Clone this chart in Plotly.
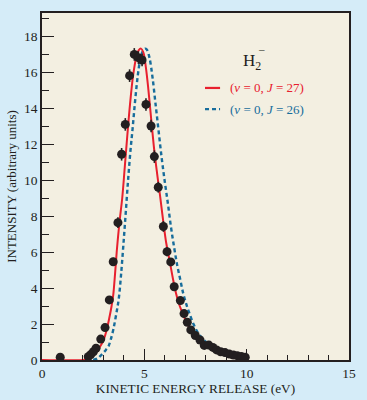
import plotly.graph_objects as go

# Measured data points (kinetic energy release in eV, intensity)
pts_E = [0.89, 2.26, 2.38, 2.51, 2.64, 2.87, 3.08, 3.29, 3.48, 3.71, 3.89, 4.07, 4.28, 4.51,
         4.71, 4.89, 5.08, 5.33, 5.49, 5.68, 5.93, 6.11, 6.29, 6.46, 6.76, 6.94, 7.10, 7.27,
         7.49, 7.72, 7.93, 8.15, 8.35, 8.53, 8.73, 8.94, 9.15, 9.35, 9.54, 9.74, 9.93]
pts_I = [0.15, 0.18, 0.30, 0.46, 0.65, 1.16, 1.80, 3.34, 5.46, 7.63, 11.43, 13.09, 15.80, 16.98,
         16.80, 16.67, 14.20, 13.00, 11.30, 9.60, 7.42, 6.02, 5.45, 4.07, 3.30, 2.58, 2.10, 1.67,
         1.36, 1.11, 0.81, 0.83, 0.70, 0.56, 0.46, 0.41, 0.33, 0.28, 0.24, 0.20, 0.15]
pts_err = [0.08, 0.08, 0.08, 0.1, 0.1, 0.12, 0.15, 0.2, 0.22, 0.3, 0.35, 0.35, 0.35, 0.35,
           0.35, 0.35, 0.35, 0.35, 0.35, 0.3, 0.3, 0.25, 0.2, 0.2, 0.15, 0.15, 0.12, 0.1,
           0.1, 0.1, 0.08, 0.08, 0.08, 0.08, 0.08, 0.08, 0.06, 0.06, 0.06, 0.06, 0.06]

# Calculated curve (v = 0, J = 27)
red_E = [0, 2.0, 2.2, 2.43, 2.65, 2.87, 3.02, 3.16, 3.3, 3.4, 3.48, 3.57, 3.65, 3.72, 3.8,
         3.92, 4.05, 4.17, 4.3, 4.45, 4.6, 4.72, 4.84, 4.95, 5.07, 5.2, 5.35, 5.49, 5.62,
         5.76, 5.88, 5.97, 6.07, 6.17, 6.27, 6.4, 6.55, 6.7, 6.85, 7.0, 7.15, 7.3, 7.5, 7.7,
         7.9, 8.05]
red_I = [0, 0, 0.05, 0.19, 0.45, 0.8, 1.15, 1.67, 2.4, 3.0, 3.6, 4.8, 6.0, 6.9, 7.8,
         9.0, 10.8, 12.5, 14.2, 15.8, 16.8, 17.2, 17.3, 17.1, 16.3, 15.0, 13.2, 11.6, 10.4,
         9.2, 8.1, 7.3, 6.5, 5.9, 5.3, 4.5, 3.7, 3.1, 2.65, 2.25, 1.9, 1.6, 1.3, 1.08,
         0.92, 0.82]

# Calculated curve (v = 0, J = 26)
blue_E = [2.5, 2.7, 2.83, 3.0, 3.12, 3.24, 3.35, 3.48, 3.62, 3.75, 3.86, 3.97, 4.08, 4.2,
          4.32, 4.43, 4.55, 4.68, 4.8, 4.92, 5.03, 5.12, 5.25, 5.4, 5.55, 5.7, 5.85, 6.0,
          6.15, 6.3, 6.45, 6.6, 6.75, 6.9, 7.05, 7.2, 7.4, 7.6, 7.8, 8.0, 8.25]
blue_I = [0, 0.08, 0.2, 0.4, 0.56, 0.74, 1.1, 1.67, 2.5, 3.4, 4.7, 6.3, 8.0, 9.9,
          11.6, 12.9, 14.4, 15.8, 16.7, 17.15, 17.3, 17.25, 16.8, 15.7, 14.2, 12.7, 11.2, 9.9,
          8.7, 7.4, 6.3, 5.3, 4.5, 3.7, 3.1, 2.6, 2.0, 1.55, 1.25, 1.02, 0.8]

x_ticks = [0, 5, 10, 15]
y_ticks = [0, 2, 4, 6, 8, 10, 12, 14, 16, 18]

RED = "#e8202e"
BLUE = "#176d9c"
DARK = "#231f20"
FONT = "Liberation Serif"

fig = go.Figure()
fig.add_trace(go.Scatter(x=blue_E, y=blue_I, mode="lines", line_shape="spline",
                         line=dict(color=BLUE, width=2.4, dash="4px,3px"), showlegend=False))
fig.add_trace(go.Scatter(x=red_E, y=red_I, mode="lines", line_shape="spline",
                         line=dict(color=RED, width=2), showlegend=False))
fig.add_trace(go.Scatter(x=pts_E, y=pts_I, mode="markers",
                         marker=dict(color=DARK, size=9),
                         error_y=dict(type="data", array=pts_err, color=DARK, thickness=1.6, width=0),
                         showlegend=False))

axis_common = dict(showline=True, mirror=True, linecolor=DARK, linewidth=1.5,
                   ticks="inside", tickcolor=DARK, showgrid=False, zeroline=False,
                   automargin=False,
                   tickfont=dict(family=FONT, size=13.5, color=DARK))

fig.update_xaxes(range=[0, 15], tickvals=x_ticks, ticklen=11, tickwidth=1.3,
                 minor=dict(dtick=1, ticklen=5, tickcolor=DARK, tickwidth=1.3, ticks="inside"),
                 title=dict(text="KINETIC ENERGY RELEASE (eV)", standoff=4,
                            font=dict(family=FONT, size=13.3, color=DARK)),
                 **axis_common)
fig.update_yaxes(range=[0, 19.28], tickvals=y_ticks, ticklen=12, tickwidth=1.3,
                 minor=dict(dtick=1, ticklen=7, tickcolor=DARK, tickwidth=1.3, ticks="inside"),
                 title=dict(text="INTENSITY (arbitrary units)", standoff=4,
                            font=dict(family=FONT, size=13, color=DARK)),
                 **axis_common)

annotations = [
    dict(x=0.684, y=0.859, xref="paper", yref="paper", text="H<sub>2</sub>", showarrow=False,
         font=dict(family=FONT, size=17, color=DARK), xanchor="center", yanchor="middle"),
    dict(x=0.716, y=0.895, xref="paper", yref="paper", text="–", showarrow=False,
         font=dict(family=FONT, size=11, color=DARK), xanchor="center", yanchor="middle"),
    dict(x=0.607, y=0.784, xref="paper", yref="paper",
         text="(<i>v</i> = 0, <i>J</i> = 27)", showarrow=False,
         font=dict(family=FONT, size=13, color=RED), xanchor="left", yanchor="middle"),
    dict(x=0.607, y=0.723, xref="paper", yref="paper",
         text="(<i>v</i> = 0, <i>J</i> = 26)", showarrow=False,
         font=dict(family=FONT, size=13, color=BLUE), xanchor="left", yanchor="middle"),
]
shapes = [
    dict(type="line", xref="paper", yref="paper", x0=0.531, x1=0.580, y0=0.784, y1=0.784,
         line=dict(color=RED, width=2.2)),
    dict(type="line", xref="paper", yref="paper", x0=0.531, x1=0.580, y0=0.723, y1=0.723,
         line=dict(color=BLUE, width=2.4, dash="4px,3px")),
]

fig.update_layout(width=367, height=400,
                  margin=dict(l=42, r=18, t=13, b=40),
                  paper_bgcolor="#d5ecf8", plot_bgcolor="#f3efe1",
                  annotations=annotations, shapes=shapes,
                  font=dict(family=FONT, color=DARK))

fig.write_html("out.html",
               config={"displayModeBar": False},
               post_script="document.body.style.margin='0';"
                           "document.documentElement.style.overflow='hidden';"
                           "document.body.style.background='#d5ecf8';")
